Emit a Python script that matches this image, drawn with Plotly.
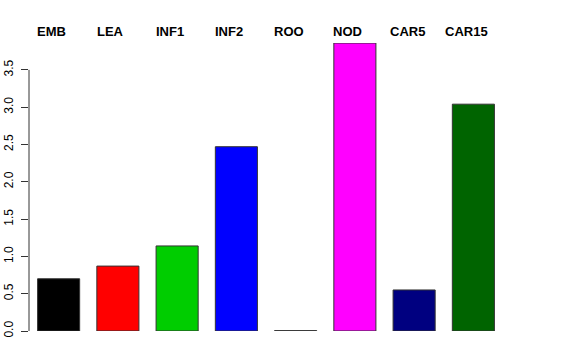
import plotly.graph_objects as go

categories = ["EMB", "LEA", "INF1", "INF2", "ROO", "NOD", "CAR5", "CAR15"]
values = [0.70, 0.87, 1.14, 2.47, 0.005, 3.86, 0.55, 3.04]
colors = ["#000000", "#ff0000", "#00cd00", "#0000ff", "#000000", "#ff00ff", "#000080", "#006400"]
tick_vals = [0.0, 0.5, 1.0, 1.5, 2.0, 2.5, 3.0, 3.5]

xs = list(range(len(categories)))

fig = go.Figure()
fig.add_trace(go.Bar(
    x=xs, y=values,
    marker=dict(color=colors, line=dict(color="#333333", width=1)),
    width=0.71,
    showlegend=False,
))

for i, c in enumerate(categories):
    fig.add_annotation(
        x=i - 0.12, y=1, xref="x", yref="paper",
        yanchor="middle", yshift=12,
        text="<b>" + c + "</b>", showarrow=False,
        font=dict(size=13, color="black", family="Liberation Sans, Arial, sans-serif"),
    )

fig.add_shape(type="line", xref="paper", yref="y", x0=0, x1=0, y0=0, y1=3.5,
              line=dict(color="#333333", width=1))

fig.update_layout(
    width=576, height=360,
    margin=dict(l=29, r=73, t=43, b=29, autoexpand=False),
    plot_bgcolor="white", paper_bgcolor="white",
    font=dict(family="Liberation Sans, Arial, sans-serif", size=12, color="black"),
    xaxis=dict(range=[-0.5, 7.5], showticklabels=False, showgrid=False, zeroline=False,
               showline=False, ticks="", automargin=False),
    yaxis=dict(range=[0, 3.86], tickvals=tick_vals, tickformat=".1f", tickangle=-90,
               ticks="outside", ticklen=7, tickcolor="#333333", showgrid=False,
               zeroline=False, showline=False, tickfont=dict(size=12), automargin=False,
               ticklabelstandoff=3),
    bargap=0.29,
)

fig.write_html("out.html",
               config={"displayModeBar": False},
               post_script="document.body.style.margin='0';document.body.style.padding='0';")
